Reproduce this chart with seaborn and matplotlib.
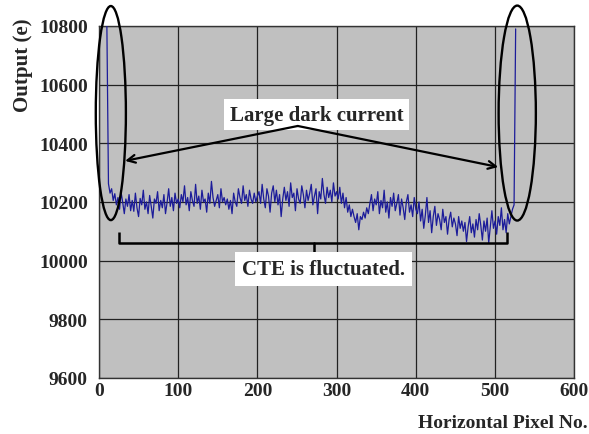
import numpy as np
import pandas as pd
import matplotlib
matplotlib.use("Agg")
import matplotlib.pyplot as plt
from matplotlib.patches import Ellipse
import seaborn as sns

# ---- data ----
pixel_start, pixel_step = 10, 2
output_e = [
    10800,
    10262, 10230, 10245, 10205, 10228, 10190, 10215, 10175, 10232, 10198, 10160, 10210, 10185, 10225, 10170,
    10205, 10168, 10230, 10180, 10150, 10212, 10190, 10240, 10175, 10200, 10160, 10222, 10185, 10145, 10210,
    10195, 10235, 10170, 10205, 10180, 10225, 10160, 10198, 10245, 10185, 10215, 10170, 10230, 10195, 10210,
    10180, 10225, 10200, 10255, 10190, 10215, 10170, 10235, 10205, 10185, 10260, 10195, 10220, 10175, 10240,
    10200, 10210, 10165, 10230, 10195, 10270, 10215, 10185, 10205, 10225, 10180, 10245, 10200, 10215, 10190,
    10210, 10175, 10205, 10160, 10230, 10200, 10185, 10245, 10215, 10195, 10255, 10205, 10225, 10185, 10240,
    10210, 10195, 10230, 10200, 10220,
    10235, 10195, 10260, 10210, 10180, 10245, 10220, 10165, 10230, 10255, 10200, 10240, 10190, 10225, 10150,
    10210, 10250, 10205, 10235, 10185, 10265, 10215, 10230, 10170, 10245, 10210, 10195, 10255, 10225, 10180,
    10240, 10205, 10230, 10260, 10190, 10220, 10245, 10160, 10235, 10210, 10280, 10225, 10195, 10250, 10215,
    10240, 10200, 10265, 10220, 10235,
    10210, 10250, 10195, 10230, 10180, 10215, 10165, 10190, 10150, 10175,
    10150, 10130, 10160, 10105, 10150, 10140, 10165, 10145, 10180, 10160,
    10195, 10225, 10170, 10210, 10190, 10235, 10160, 10205, 10180, 10240, 10165, 10200, 10145, 10215, 10185,
    10230, 10170, 10195, 10225, 10155, 10210, 10180, 10140, 10200, 10225, 10165, 10190, 10150, 10215, 10175,
    10160, 10200, 10135, 10175, 10110, 10155, 10215, 10130, 10170, 10095, 10150, 10185, 10120, 10160, 10140,
    10105, 10175, 10130, 10150, 10090, 10140, 10165, 10115, 10145, 10125, 10085, 10150, 10110, 10135, 10100,
    10130, 10065, 10115, 10150, 10095, 10125, 10080, 10140, 10105, 10160, 10120, 10070, 10135, 10100, 10145,
    10060, 10115, 10170, 10110, 10135, 10090, 10150, 10120, 10180, 10105, 10140, 10095, 10160, 10125, 10150,
    10175,
    10190, 10790,
]
pixel_no = pixel_start + pixel_step * np.arange(len(output_e))

x_ticks = [0, 100, 200, 300, 400, 500, 600]
y_ticks = [9600, 9800, 10000, 10200, 10400, 10600, 10800]

df = pd.DataFrame({"Horizontal Pixel No.": pixel_no, "Output (e)": output_e})

# ---- style ----
sns.set_theme(style="white")
plt.rcParams["font.family"] = ["Liberation Serif", "DejaVu Serif"]
plt.rcParams["font.weight"] = "bold"

fig = plt.figure(figsize=(5.89, 4.35), dpi=100)
ax = fig.add_axes([0.168, 0.129, 0.807, 0.809])
ax.set_facecolor("#c0c0c0")

sns.lineplot(data=df, x="Horizontal Pixel No.", y="Output (e)", ax=ax,
             color="#1c1c9a", linewidth=0.9, zorder=3)

ax.set_xlim(0, 600)
ax.set_ylim(9600, 10800)
ax.set_xticks(x_ticks)
ax.set_yticks(y_ticks)
ax.grid(True, color="#222222", linewidth=0.9)
ax.set_axisbelow(True)
for s in ax.spines.values():
    s.set_color("#333333")
    s.set_linewidth(1.0)
ax.tick_params(axis="y", length=0, labelsize=14, pad=8)
ax.tick_params(axis="x", length=0, labelsize=14, pad=3)
for lab in ax.get_xticklabels() + ax.get_yticklabels():
    lab.set_fontweight("bold")
ax.set_xlabel("")
ax.set_ylabel("")

fig.text(0.039, 0.85, "Output (e)", rotation=90, ha="center", va="center",
         fontsize=15, fontweight="bold")
fig.text(0.998, 0.027, "Horizontal Pixel No.", ha="right", va="center",
         fontsize=14, fontweight="bold")

# ---- annotations ----
ell_kw = dict(fill=False, edgecolor="black", linewidth=1.7, clip_on=False, zorder=5)
ax.add_patch(Ellipse((15, 10503), 38, 730, **ell_kw))
ax.add_patch(Ellipse((528, 10503), 47, 733, **ell_kw))

ax.text(275, 10498, "Large dark current", ha="center", va="center", fontsize=15,
        fontweight="bold", zorder=6,
        bbox=dict(facecolor="white", edgecolor="none", pad=4))
for tx, ty in [(33, 10340), (504, 10319)]:
    ax.annotate("", xy=(tx, ty), xytext=(251, 10459),
                arrowprops=dict(arrowstyle="->", color="black", lw=1.6,
                                mutation_scale=14, shrinkA=0, shrinkB=0), zorder=6)

ax.plot([25, 25, 515, 515], [10098, 10060, 10060, 10098], color="black", lw=1.8,
        zorder=6, solid_capstyle="butt")
ax.plot([271, 271], [10060, 10016], color="black", lw=1.8, zorder=6)

ax.text(283, 9972, "CTE is fluctuated.", ha="center", va="center", fontsize=15,
        fontweight="bold", zorder=6,
        bbox=dict(facecolor="white", edgecolor="none", pad=5))

fig.savefig("out.png", dpi=100)
